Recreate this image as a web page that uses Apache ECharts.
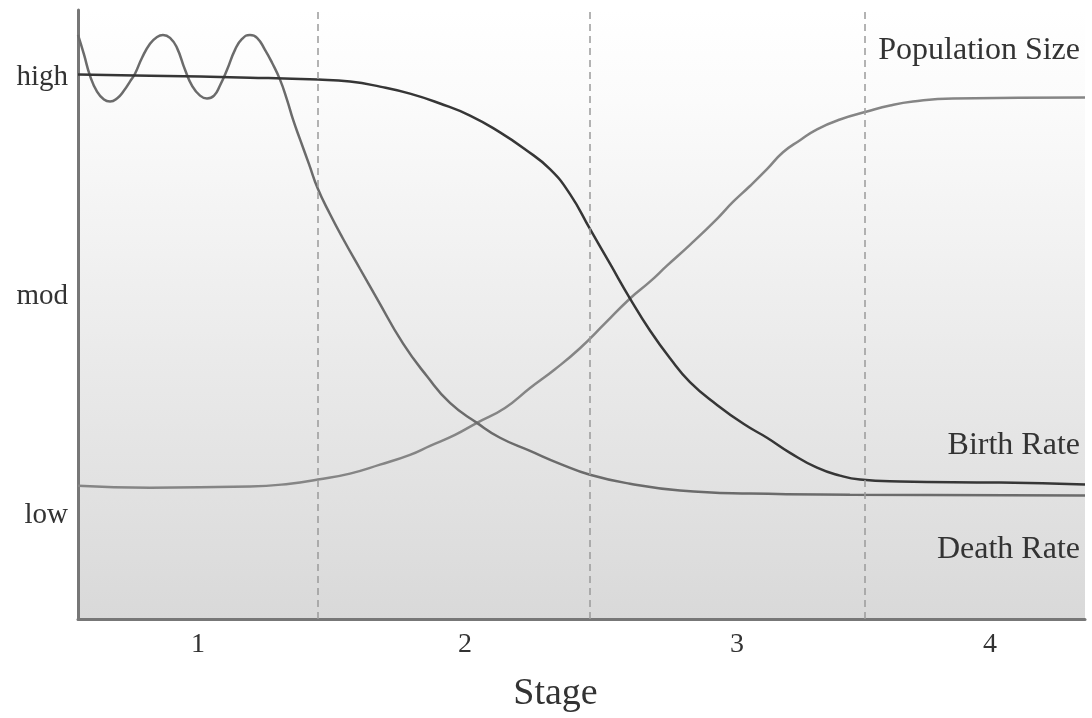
<!DOCTYPE html>
<html>
<head>
<meta charset="utf-8">
<script src="https://cdn.jsdelivr.net/npm/echarts@6/dist/echarts.min.js"></script>
<style>
html,body{margin:0;padding:0;background:#fff;}
#chart{width:1092px;height:718px;}
</style>
</head>
<body>
<div id="chart"></div>
<script>
// x: time through the transition (0-100), y: level (1 = low, 2 = mod, 3 = high)
var levelValues = [1, 2, 3];
var levelLabels = ['low', 'mod', 'high'];
var stagePositions = [11.92, 38.43, 65.44, 90.57];
var stageLabels = ['1', '2', '3', '4'];
var stageBoundaries = [23.83, 50.84, 78.15];

var birthRate = [
  [0, 3.014], [7.15, 3.009], [17.08, 3.0], [23.83, 2.991], [27.01, 2.982],
  [29.99, 2.959], [32.97, 2.927], [35.95, 2.882], [38.93, 2.827], [41.91, 2.75],
  [44.39, 2.673], [46.87, 2.582], [48.86, 2.468], [50.84, 2.309], [52.83, 2.15],
  [54.82, 1.991], [56.80, 1.845], [58.79, 1.718], [60.77, 1.609], [63.46, 1.505],
  [66.24, 1.414], [68.42, 1.355], [70.71, 1.286], [73.39, 1.218], [75.67, 1.182],
  [77.66, 1.164], [81.63, 1.155], [91.56, 1.15], [100, 1.141]
];
var deathRate = [
  [0, 3.195], [0.60, 3.105], [1.19, 3.009], [1.89, 2.936], [2.58, 2.9],
  [3.18, 2.891], [3.87, 2.905], [4.57, 2.941], [5.16, 2.982], [5.66, 3.018],
  [6.36, 3.091], [7.15, 3.155], [7.85, 3.186], [8.44, 3.195], [9.14, 3.182],
  [9.83, 3.136], [10.63, 3.036], [11.32, 2.964], [12.12, 2.918], [12.81, 2.905],
  [13.51, 2.918], [14.10, 2.964], [14.80, 3.036], [15.59, 3.127], [16.29, 3.177],
  [17.08, 3.195], [17.78, 3.182], [18.57, 3.127], [19.27, 3.068], [20.06, 2.991],
  [20.75, 2.9], [21.35, 2.809], [22.05, 2.718], [22.94, 2.605], [23.83, 2.491],
  [25.02, 2.377], [26.32, 2.264], [28.00, 2.127], [29.69, 1.991], [32.27, 1.786],
  [34.66, 1.636], [36.94, 1.514], [39.62, 1.423], [41.91, 1.355], [44.89, 1.295],
  [47.87, 1.236], [50.84, 1.186], [54.82, 1.145], [59.78, 1.114], [66.73, 1.1],
  [76.66, 1.095], [100, 1.091]
];
var populationSize = [
  [0, 1.136], [7.15, 1.127], [17.08, 1.132], [21.05, 1.145], [23.83, 1.164],
  [27.01, 1.191], [29.99, 1.232], [32.97, 1.277], [34.96, 1.318], [37.44, 1.368],
  [39.62, 1.423], [42.40, 1.491], [44.89, 1.582], [47.37, 1.668], [49.85, 1.764],
  [52.33, 1.877], [54.82, 1.991], [56.80, 2.068], [58.49, 2.141], [60.77, 2.236],
  [63.46, 2.355], [65.04, 2.432], [66.73, 2.505], [68.42, 2.582], [70.01, 2.659],
  [71.70, 2.714], [73.39, 2.764], [75.67, 2.809], [78.35, 2.845], [80.64, 2.873],
  [82.92, 2.891], [86.89, 2.905], [100, 2.909]
];

var FONT = '"Liberation Serif", "DejaVu Serif", serif';
var chart = echarts.init(document.getElementById('chart'), null, {renderer: 'canvas'});

function endLabel(text, dy) {
  return {
    show: true,
    formatter: text,
    align: 'right',
    offset: [-13, dy],
    fontFamily: FONT,
    fontSize: 32,
    color: '#333'
  };
}

chart.setOption({
  animation: false,
  grid: {
    left: 78, right: 7, top: 10, bottom: 96,
    show: true,
    borderWidth: 0,
    backgroundColor: new echarts.graphic.LinearGradient(0, 0, 0, 1, [
      {offset: 0, color: '#ffffff'},
      {offset: 0.15, color: '#fbfbfb'},
      {offset: 1, color: '#d9d9d9'}
    ])
  },
  xAxis: {
    type: 'value',
    min: 0, max: 100,
    name: 'Stage',
    nameLocation: 'middle',
    nameGap: 56,
    nameTextStyle: {fontFamily: FONT, fontSize: 38, color: '#333', padding: [0, 52, 0, 0]},
    axisLine: {show: true, lineStyle: {color: '#777', width: 3}},
    axisTick: {show: false},
    splitLine: {show: false},
    axisLabel: {
      customValues: stagePositions,
      formatter: function (v) {
        var i = stagePositions.indexOf(v);
        return i >= 0 ? stageLabels[i] : '';
      },
      margin: 12,
      fontFamily: FONT, fontSize: 28, color: '#333'
    }
  },
  yAxis: {
    type: 'value',
    min: 0.527, max: 3.309,
    axisLine: {show: true, lineStyle: {color: '#777', width: 3}},
    axisTick: {show: false},
    splitLine: {show: false},
    axisLabel: {
      customValues: levelValues,
      formatter: function (v) {
        var i = levelValues.indexOf(v);
        return i >= 0 ? levelLabels[i] : '';
      },
      margin: 10,
      fontFamily: FONT, fontSize: 29, color: '#333'
    }
  },
  series: [
    {
      name: 'Stage boundaries',
      type: 'line',
      data: [],
      markLine: {
        silent: true,
        symbol: 'none',
        label: {show: false},
        lineStyle: {color: '#9a9a9a', type: [7, 5], width: 1.5},
        data: stageBoundaries.map(function (b) { return {xAxis: b}; })
      }
    },
    {
      name: 'Population Size',
      type: 'line',
      data: populationSize,
      smooth: 0.5,
      showSymbol: false,
      lineStyle: {color: '#858585', width: 2.5},
      endLabel: endLabel('Population Size', -47)
    },
    {
      name: 'Death Rate',
      type: 'line',
      data: deathRate,
      smooth: 0.5,
      showSymbol: false,
      lineStyle: {color: '#6b6b6b', width: 2.5},
      endLabel: endLabel('Death Rate', 54)
    },
    {
      name: 'Birth Rate',
      type: 'line',
      data: birthRate,
      smooth: 0.5,
      showSymbol: false,
      lineStyle: {color: '#363636', width: 2.5},
      endLabel: endLabel('Birth Rate', -39)
    }
  ]
});
</script>
</body>
</html>
